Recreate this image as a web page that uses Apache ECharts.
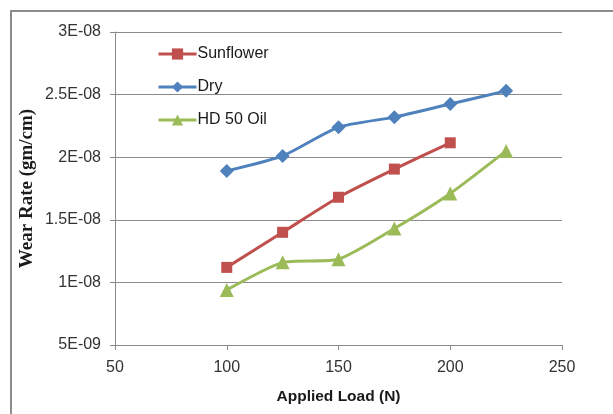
<!DOCTYPE html>
<html>
<head>
<meta charset="utf-8">
<script src="https://cdn.jsdelivr.net/npm/echarts@6/dist/echarts.min.js"></script>
<style>
  html, body { margin: 0; padding: 0; background: #fff; }
  #chart { width: 613px; height: 414px; }
</style>
</head>
<body>
<div id="chart"></div>
<script>
// Applied load (N) and measured wear rate (gm/cm) for each lubrication condition
const loads = [100, 125, 150, 175, 200, 225];
const sunflower = [1.12e-8, 1.40e-8, 1.68e-8, 1.905e-8, 2.115e-8, null];
const dry = [1.89e-8, 2.01e-8, 2.24e-8, 2.32e-8, 2.425e-8, 2.53e-8];
const hd50Oil = [0.94e-8, 1.16e-8, 1.185e-8, 1.43e-8, 1.71e-8, 2.05e-8];

const seriesNames = ['Sunflower', 'Dry', 'HD 50 Oil'];
const seriesColors = ['#C0504D', '#4F81BD', '#9BBB59'];
const seriesSymbols = ['rect', 'diamond', 'triangle'];
const symbolSizes = [11, 14, 14];

// Excel-style scientific tick labels, e.g. 2.5E-08
function sci(v) {
  const parts = v.toExponential(3).split('e');
  const mant = parseFloat(parts[0]).toString();
  const exp = parseInt(parts[1], 10);
  return mant + 'E' + (exp < 0 ? '-' : '+') + String(Math.abs(exp)).padStart(2, '0');
}

function pairs(values) {
  return loads.map((x, i) => [x, values[i]]).filter(p => p[1] !== null);
}

const chart = echarts.init(document.getElementById('chart'));

const labelFont = 'Liberation Sans, Arial, sans-serif';
const axisGray = '#8a8a8a';

chart.setOption({
  animation: false,
  backgroundColor: '#fff',
  // chart-area frame: only the left and top edges fall inside the page
  graphic: [{
    type: 'polyline',
    shape: { points: [[11, 414], [11, 11], [613, 11]] },
    style: { fill: 'none', stroke: '#8c8c8c', lineWidth: 2 },
    silent: true
  }],
  grid: { left: 115, right: 51, top: 32, bottom: 69 },
  legend: {
    orient: 'vertical',
    left: 152,
    top: 41,
    itemGap: 17,
    itemWidth: 38,
    itemHeight: 14,
    data: seriesNames,
    lineStyle: { width: 3 },
    textStyle: { fontFamily: labelFont, fontSize: 16, color: '#1a1a1a', padding: [0, 0, 0, -4] }
  },
  xAxis: {
    type: 'value',
    min: 50,
    max: 250,
    interval: 50,
    name: 'Applied Load (N)',
    nameLocation: 'middle',
    nameGap: 44,
    nameTextStyle: { fontFamily: labelFont, fontSize: 15.5, fontWeight: 'bold', color: '#1a1a1a' },
    axisLine: { show: true, lineStyle: { color: axisGray, width: 1 } },
    axisTick: { show: true, inside: false, length: 5, lineStyle: { color: axisGray } },
    axisLabel: { fontFamily: labelFont, fontSize: 16, color: '#333', margin: 15 },
    splitLine: { show: false }
  },
  yAxis: {
    type: 'value',
    min: 5e-9,
    max: 3e-8,
    interval: 5e-9,
    name: 'Wear Rate (gm/cm)',
    nameLocation: 'middle',
    nameGap: 78,
    nameRotate: 90,
    nameMoveOverlap: false,
    nameTextStyle: { fontFamily: 'Liberation Serif, Times New Roman, serif', fontSize: 19, fontWeight: 'bold', color: '#1a1a1a' },
    axisLine: { show: true, lineStyle: { color: axisGray, width: 1 } },
    axisTick: { show: true, inside: false, length: 5, lineStyle: { color: axisGray } },
    axisLabel: { fontFamily: labelFont, fontSize: 16, color: '#333', margin: 14, formatter: sci },
    splitLine: { show: true, lineStyle: { color: axisGray, width: 1 } }
  },
  series: [sunflower, dry, hd50Oil].map((values, i) => ({
    name: seriesNames[i],
    type: 'line',
    data: pairs(values),
    smooth: 0.2,
    symbol: seriesSymbols[i],
    symbolSize: symbolSizes[i],
    color: seriesColors[i],
    lineStyle: { width: 3 },
    itemStyle: { color: seriesColors[i] }
  }))
});
</script>
</body>
</html>
